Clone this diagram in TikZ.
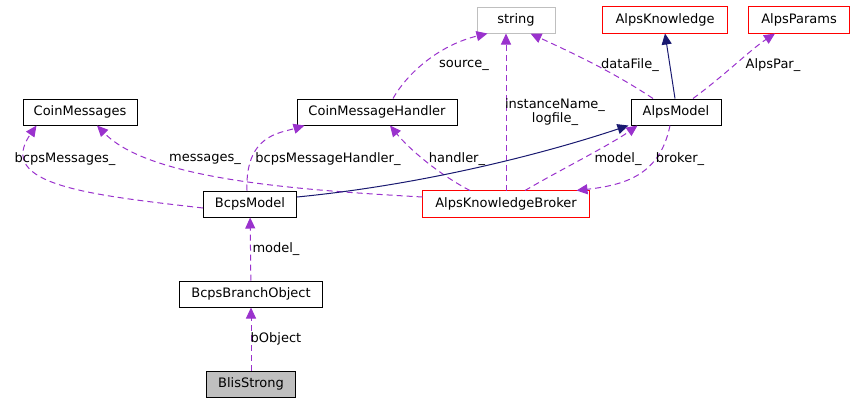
\documentclass[tikz,border=0pt]{standalone}
\usepackage{fontspec}
\setmainfont{DejaVu Sans}
\usetikzlibrary{arrows.meta,positioning,calc}
\definecolor{usecol}{HTML}{9A32CD}
\definecolor{inhcol}{HTML}{191970}
\definecolor{greybox}{HTML}{BFBFBF}
\definecolor{extred}{HTML}{FF0000}

\begin{document}
\begin{tikzpicture}
[x=1pt,y=-1pt,
    font=\fontsize{13}{14.5}\selectfont,
    box/.style={line width=1pt,minimum height=26pt,inner sep=0pt},
    cls/.style={box,draw=black},
    extcls/.style={box},
    extborder/.style={extred,line width=1pt},
    strcls/.style={box,draw=greybox},
    curcls/.style={box,draw=black,fill=greybox},
    use/.style={usecol,line width=1pt,dash pattern=on 6pt off 4pt,
        -{Triangle[width=10pt,length=11pt]}},
    inh/.style={inhcol,line width=1pt,-{Triangle[width=10pt,length=11pt]}},
    lab/.style={inner sep=1pt,align=center}]
\useasboundingbox (0,0) rectangle (853,402);
%%%%%%%%%%
%% classes
\node[strcls,minimum width=78pt] (str) at (516,20) {string};
\node[extcls,minimum width=124pt] (know) at (665,20) {AlpsKnowledge};
\node[extcls,minimum width=100pt] (params) at (799,20) {AlpsParams};
\node[cls,minimum width=114pt] (coinmsg) at (80,112) {CoinMessages};
\node[cls,minimum width=160pt] (coinhdl) at (377,112) {CoinMessageHandler};
\node[cls,minimum width=90pt] (alpsmodel) at (676,112) {AlpsModel};
\node[cls,minimum width=93pt] (bcpsmodel) at (250,204) {BcpsModel};
\node[extcls,minimum width=166pt] (broker) at (506,204) {AlpsKnowledgeBroker};
\node[cls,minimum width=143pt] (branch) at (251,294) {BcpsBranchObject};
\node[curcls,minimum width=89pt] (blis) at (251,384) {BlisStrong};
%% red frames of the external classes
\foreach \n in {know,params,broker}
    \draw[extborder] (\n.south west) rectangle (\n.north east);
%%%%%%%%%%
%% top row
\draw[use] ($(coinhdl.north)+(16,0)$) .. controls (408,72) and (440,45)
    .. ($(str.south west)+(11,0)$);
\draw[use] ($(broker.north)+(0,0)$) -- ($(str.south)+(-10,0)$);
\draw[use] ($(alpsmodel.north)+(-23,0)$) .. controls (610,70) and (570,52)
    .. ($(str.south east)+(-25,0)$);
\draw[inh] ($(alpsmodel.north)+(-1,0)$) -- (know.south);
\draw[use] ($(alpsmodel.north)+(17,0)$) .. controls (725,75) and (750,50)
    .. ($(params.south)+(-24,0)$);
%%
\node[lab] (srclab) at (464,65) {source\_};
\node[lab] (namelab) at (555,112) {instanceName\_\\logfile\_};
\node[lab] (filelab) at (630,65) {dataFile\_};
\node[lab] (parlab) at (773,65) {AlpsPar\_};
%%%%%%%%%%
%% middle row
\draw[use] ($(bcpsmodel.west)+(0,4)$) .. controls (90,195) and (-5,185)
    .. ($(coinmsg.south west)+(14,0)$);
\draw[use] ($(broker.west)+(0,-7)$) .. controls (300,190) and (150,180)
    .. ($(coinmsg.south)+(17,0)$);
\draw[use] ($(bcpsmodel.north)+(-3,0)$) .. controls (245,135) and (280,133)
    .. ($(coinhdl.south west)+(8,0)$);
\draw[use] ($(broker.north)+(-36,0)$) .. controls (440,175) and (410,150)
    .. ($(coinhdl.south)+(13,0)$);
\draw[inh] ($(bcpsmodel.east)+(0,-7)$) .. controls (420,185) and (540,155)
    .. ($(alpsmodel.south west)+(-2,0)$);
\draw[use] ($(broker.north)+(19,0)$) .. controls (560,170) and (610,145)
    .. ($(alpsmodel.south west)+(7,0)$);
\draw[use] ($(alpsmodel.south)+(-6,0)$) .. controls (660,175) and (625,185)
    .. ($(broker.north east)+(-13,0)$);
%%
\node[lab] (msgslab) at (65,159) {bcpsMessages\_};
\node[lab] (msglab) at (205,159) {messages\_};
\node[lab] (hdllab) at (328,159) {bcpsMessageHandler\_};
\node[lab] (hlab) at (457,159) {handler\_};
\node[lab] (modellab) at (618,159) {model\_};
\node[lab] (brklab) at (680,159) {broker\_};
%%%%%%%%%%
%% bottom
\draw[use] (branch) -- (bcpsmodel);
\draw[use] (blis) -- (branch);
\node[lab] (bmodellab) at (276,249) {model\_};
\node[lab] (objlab) at (276,339) {bObject};
\end{tikzpicture}
\end{document}
